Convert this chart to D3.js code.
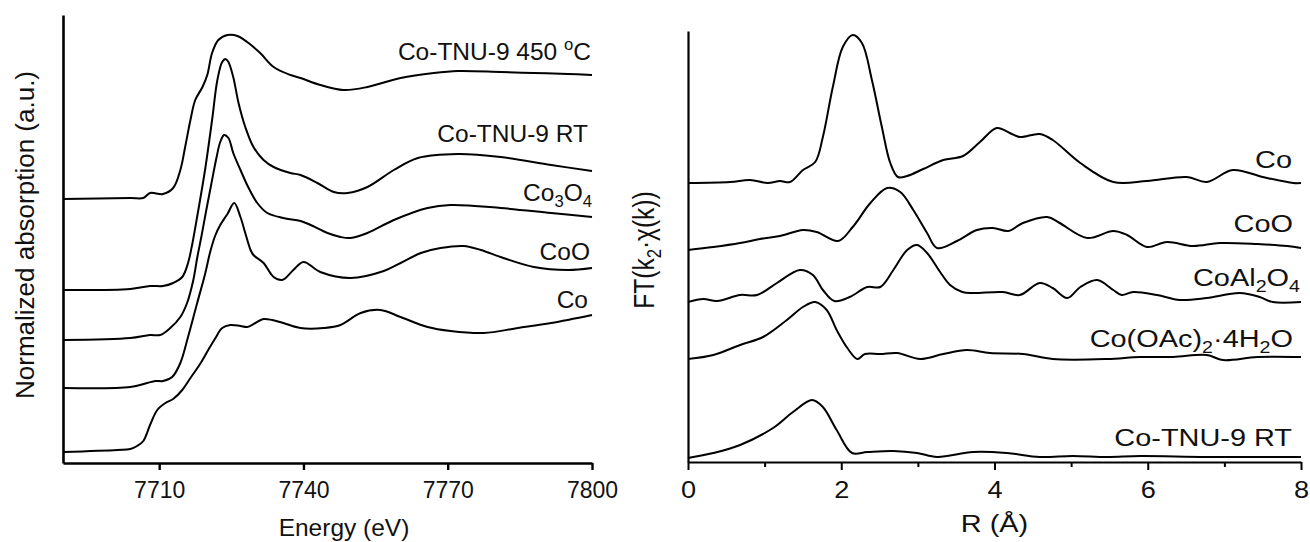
<!DOCTYPE html>
<html>
<head>
<meta charset="utf-8">
<script src="https://cdn.jsdelivr.net/npm/d3@7"></script>
<style>
  html, body { margin: 0; padding: 0; background: #fff; }
  svg { display: block; }
  text { font-family: "Liberation Sans", Arial, sans-serif; fill: #111; }
</style>
</head>
<body>
<svg id="chart" width="1310" height="542"></svg>
<script>
// ---------- XANES (left panel): energy in eV, normalized absorption (stacked, a.u.) ----------
const xanesTicks = [7710, 7740, 7770, 7800];

const xanesCo450 = [
  [7690,2.64],[7704,2.65],[7706.7,2.65],[7708.1,2.70],[7710.8,2.69],[7712.9,2.75],[7714.4,2.93],
  [7715.4,3.16],[7716.5,3.43],[7717.5,3.63],[7719,3.76],[7720,3.88],[7721,4.10],[7722.3,4.23],
  [7724.2,4.28],[7726.3,4.27],[7728.3,4.21],[7731,4.10],[7733.8,3.96],[7737.3,3.88],[7739.4,3.85],
  [7743.5,3.78],[7748.3,3.73],[7753.3,3.76],[7760.2,3.85],[7767.1,3.90],[7772.1,3.92],[7781,3.91],
  [7787.9,3.90],[7795,3.89],[7800,3.88]
];
const xanesRT = [
  [7690,1.73],[7704,1.74],[7708.1,1.77],[7710.8,1.77],[7712.9,1.80],[7714.8,1.86],[7716,2.00],
  [7716.8,2.17],[7717.6,2.38],[7718.5,2.63],[7719.6,2.95],[7721,3.43],[7722.1,3.83],[7723.1,4.01],
  [7723.8,4.04],[7724.4,4.01],[7725.4,3.86],[7726.5,3.60],[7727.9,3.36],[7729.6,3.16],[7731.7,3.03],
  [7733.8,2.96],[7737.3,2.90],[7739.4,2.88],[7742.9,2.80],[7746.3,2.71],[7749.2,2.70],[7753.3,2.76],
  [7758.8,2.93],[7763.8,3.05],[7772.1,3.09],[7781,3.06],[7791.5,2.98],[7800,2.92]
];
const xanesCo3O4 = [
  [7690,1.23],[7704,1.25],[7708.1,1.28],[7710.2,1.28],[7712.3,1.35],[7714.4,1.46],[7715.8,1.60],
  [7717.1,1.83],[7717.9,2.05],[7718.8,2.27],[7719.8,2.53],[7720.8,2.78],[7721.9,3.05],[7722.7,3.21],
  [7723.5,3.28],[7724.4,3.25],[7725.4,3.10],[7726.9,2.93],[7728.5,2.76],[7730.4,2.60],[7732.5,2.50],
  [7735.8,2.45],[7739.4,2.42],[7741.5,2.38],[7745,2.30],[7747.7,2.26],[7749.8,2.25],[7753.3,2.30],
  [7758.8,2.43],[7765.8,2.55],[7770.6,2.58],[7781,2.55],[7791.5,2.50],[7800,2.46]
];
const xanesCoO = [
  [7690,0.75],[7704,0.76],[7707.5,0.80],[7709.2,0.82],[7710.8,0.82],[7712.7,0.86],[7714.4,1.00],
  [7716,1.26],[7717.9,1.60],[7719.6,1.90],[7720.6,2.11],[7721.7,2.28],[7722.7,2.38],[7724.2,2.49],
  [7725.6,2.60],[7726.9,2.46],[7727.9,2.30],[7729,2.13],[7729.6,2.08],[7731.7,2.00],[7733.8,1.86],
  [7735.6,1.83],[7737.9,1.93],[7740,2.01],[7743.5,1.91],[7749.8,1.85],[7756.7,1.92],[7760.2,2.00],
  [7764.4,2.10],[7768.5,2.15],[7773.3,2.17],[7776.9,2.13],[7781,2.06],[7787.9,1.96],[7795,1.93],
  [7800,1.95]
];
const xanesCo = [
  [7690,0.11],[7701.3,0.13],[7704,0.14],[7705.4,0.17],[7706.7,0.22],[7708.1,0.38],[7709.6,0.53],
  [7711.3,0.60],[7712.9,0.64],[7714.8,0.73],[7716.5,0.85],[7718.5,0.99],[7720.2,1.13],[7721.7,1.25],
  [7723.1,1.35],[7724.8,1.38],[7726.9,1.37],[7728.3,1.36],[7730,1.40],[7731.7,1.44],[7733.5,1.43],
  [7735.8,1.40],[7739.4,1.35],[7744.2,1.35],[7747.7,1.38],[7751.9,1.50],[7756,1.53],[7760.2,1.46],
  [7765.8,1.36],[7770.6,1.32],[7777.5,1.30],[7784.6,1.35],[7791.5,1.40],[7800,1.48]
];

// ---------- EXAFS (right panel): R in Å, FT magnitude (stacked, a.u.) ----------
const exafsTicks = [0, 2, 4, 6, 8];
const exafsMinorTicks = [1, 3, 5, 7];

const exafsCo = [
  [0,2.79],[0.55,2.80],[0.81,2.82],[1.04,2.79],[1.20,2.81],[1.33,2.80],[1.50,2.92],[1.66,3.00],
  [1.76,3.25],[1.89,3.75],[2.02,4.15],[2.15,4.27],[2.27,4.19],[2.40,3.82],[2.53,3.35],[2.64,2.99],
  [2.74,2.85],[2.86,2.86],[3.07,2.93],[3.33,3.02],[3.59,3.06],[3.81,3.20],[4.03,3.34],[4.20,3.29],
  [4.33,3.25],[4.59,3.28],[4.76,3.22],[5.12,2.99],[5.55,2.80],[5.99,2.81],[6.51,2.85],[6.77,2.80],
  [7.11,2.92],[7.50,2.85],[7.90,2.79],[8,2.79]
];
const exafsCoO = [
  [0,2.12],[0.33,2.15],[0.68,2.19],[0.94,2.23],[1.20,2.26],[1.50,2.32],[1.68,2.30],[1.96,2.21],
  [2.15,2.35],[2.38,2.59],[2.60,2.74],[2.77,2.70],[2.94,2.52],[3.12,2.29],[3.25,2.14],[3.51,2.21],
  [3.77,2.32],[3.98,2.34],[4.18,2.31],[4.37,2.39],[4.69,2.45],[4.85,2.39],[5.21,2.24],[5.55,2.31],
  [5.73,2.27],[5.99,2.15],[6.25,2.20],[6.59,2.16],[6.94,2.19],[7.43,2.18],[7.82,2.16],[8,2.14]
];
const exafsCoAl2O4 = [
  [0,1.60],[0.20,1.63],[0.38,1.61],[0.68,1.67],[0.90,1.67],[1.16,1.79],[1.46,1.92],[1.63,1.87],
  [1.76,1.72],[1.91,1.61],[2.11,1.65],[2.34,1.75],[2.51,1.75],[2.68,1.92],[2.86,2.12],[2.99,2.17],
  [3.12,2.09],[3.29,1.90],[3.42,1.77],[3.58,1.70],[3.72,1.69],[4.11,1.70],[4.33,1.67],[4.59,1.79],
  [4.76,1.74],[4.95,1.64],[5.12,1.75],[5.34,1.82],[5.55,1.72],[5.66,1.67],[5.81,1.70],[6.12,1.67],
  [6.42,1.62],[6.77,1.64],[7.20,1.69],[7.46,1.65],[7.63,1.60],[8,1.60]
];
const exafsCoOAc = [
  [0,1.03],[0.33,1.07],[0.68,1.17],[0.98,1.25],[1.29,1.42],[1.50,1.55],[1.66,1.60],[1.81,1.52],
  [1.94,1.32],[2.08,1.14],[2.21,1.03],[2.31,1.08],[2.51,1.08],[2.73,1.09],[3.03,1.03],[3.33,1.08],
  [3.64,1.12],[3.94,1.09],[4.37,1.08],[4.76,1.03],[5.47,1.03],[5.90,1.05],[6.33,1.05],[6.77,1.07],
  [6.98,1.02],[7.43,1.05],[8,1.05]
];
const exafsRT = [
  [0,0.04],[0.33,0.09],[0.68,0.17],[1.11,0.34],[1.37,0.50],[1.62,0.62],[1.76,0.55],[1.94,0.32],
  [2.14,0.09],[2.34,0.10],[2.68,0.11],[2.99,0.09],[3.25,0.05],[3.72,0.10],[4.16,0.09],[4.59,0.05],
  [5.02,0.06],[5.47,0.05],[5.90,0.06],[6.77,0.05],[8,0.05]
];

// Series names, written as pieces: 0 = normal, 1 = subscript, -1 = superscript
const xanesNames = [
  [["Co-TNU-9 450 ", 0], ["o", -1], ["C", 0]],
  [["Co-TNU-9 RT", 0]],
  [["Co", 0], ["3", 1], ["O", 0], ["4", 1]],
  [["CoO", 0]],
  [["Co", 0]]
];
const exafsNames = [
  [["Co", 0]],
  [["CoO", 0]],
  [["CoAl", 0], ["2", 1], ["O", 0], ["4", 1]],
  [["Co(OAc)", 0], ["2", 1], ["·4H", 0], ["2", 1], ["O", 0]],
  [["Co-TNU-9 RT", 0]]
];

const xanesSeries = [xanesCo450, xanesRT, xanesCo3O4, xanesCoO, xanesCo];
const exafsSeries = [exafsCo, exafsCoO, exafsCoAl2O4, exafsCoOAc, exafsRT];

// ---------- layout ----------
// label anchors (right end x offset in px, baseline in data units)
const xanesNamePos = [{ dx: -1, y: 4.03 }, { dx: -4, y: 3.21 }, { dx: 0, y: 2.62 }, { dx: -2, y: 2.03 }, { dx: -4, y: 1.55 }];
const exafsNamePos = [{ dx: -9, y: 2.94 }, { dx: -8, y: 2.30 }, { dx: -1, y: 1.76 }, { dx: -8, y: 1.15 }, { dx: -9, y: 0.16 }];

const svg = d3.select("#chart");
const FONT = 24.5, TICK_FONT = 23, STRETCH = 1.18;

function addParts(textSel, parts, size) {
  let shift = 0;
  parts.forEach(([t, mode]) => {
    const ts = textSel.append("tspan").text(t);
    if (mode === 1) {           // subscript
      ts.attr("font-size", size * 0.68).attr("dy", 6 - shift); shift = 6;
    } else if (mode === -1) {   // superscript
      ts.attr("font-size", size * 0.68).attr("dy", -10 - shift); shift = -10;
    } else {
      ts.attr("font-size", size).attr("dy", -shift); shift = 0;
    }
  });
}

// Left panel scales
const xX = d3.scaleLinear().domain([7690, 7800]).range([63, 592]);
const xY = d3.scaleLinear().domain([0, 4.48]).range([463, 15]);
// Right panel scales
const rX = d3.scaleLinear().domain([0, 8]).range([688, 1301]);
const rY = d3.scaleLinear().domain([0, 4.31]).range([462, 31]);

const curve = d3.curveCatmullRom.alpha(0.5);

// ---- left panel ----
const left = svg.append("g");
const lineL = d3.line().x(d => xX(d[0])).y(d => xY(d[1])).curve(curve);
left.selectAll("path.series").data(xanesSeries).join("path")
  .attr("class", "series").attr("d", lineL)
  .attr("fill", "none").attr("stroke", "#000").attr("stroke-width", 2).attr("stroke-linejoin", "round");

const lxAxis = left.append("g").attr("transform", `translate(0,${xY(0)})`)
  .call(d3.axisBottom(xX).tickValues(xanesTicks).tickSize(7).tickSizeOuter(0).tickPadding(12).tickFormat(d3.format("d")));
lxAxis.select(".domain").attr("stroke", "#000").attr("stroke-width", 2.6);
lxAxis.selectAll(".tick line").attr("stroke", "#000").attr("stroke-width", 2.4);
lxAxis.selectAll(".tick text").attr("font-size", TICK_FONT).attr("font-family", "Liberation Sans, Arial, sans-serif").attr("fill", "#111");

const lyAxis = left.append("g").attr("transform", `translate(${xX(7690)},0)`)
  .call(d3.axisLeft(xY).tickValues([]).tickSizeOuter(0));
lyAxis.select(".domain").attr("stroke", "#000").attr("stroke-width", 2.6);

left.append("text").attr("x", 344).attr("y", 536)
  .attr("text-anchor", "middle").attr("font-size", FONT).text("Energy (eV)");
left.append("text").attr("transform", `translate(34,235) rotate(-90)`)
  .attr("text-anchor", "middle").attr("font-size", 26).text("Normalized absorption (a.u.)");

xanesNames.forEach((parts, i) => {
  const p = xanesNamePos[i];
  const t = left.append("text").attr("x", xX(7800) + p.dx).attr("y", xY(p.y)).attr("text-anchor", "end");
  addParts(t, parts, FONT);
});

// ---- right panel ----
const right = svg.append("g");
const lineR = d3.line().x(d => rX(d[0])).y(d => rY(d[1])).curve(curve);
right.selectAll("path.series").data(exafsSeries).join("path")
  .attr("class", "series").attr("d", lineR)
  .attr("fill", "none").attr("stroke", "#000").attr("stroke-width", 2).attr("stroke-linejoin", "round");

const rxAxis = right.append("g").attr("transform", `translate(0,${rY(0)})`)
  .call(d3.axisBottom(rX).tickValues(exafsTicks).tickSize(8).tickSizeOuter(0).tickPadding(12).tickFormat(d3.format("d")));
rxAxis.select(".domain").attr("stroke", "#000").attr("stroke-width", 2.2);
rxAxis.selectAll(".tick line").attr("stroke", "#000").attr("stroke-width", 2);
rxAxis.selectAll(".tick text").attr("font-size", TICK_FONT).attr("font-family", "Liberation Sans, Arial, sans-serif")
  .attr("fill", "#111").attr("transform", `scale(${STRETCH},1)`);

const rxMinor = right.append("g").attr("transform", `translate(0,${rY(0)})`)
  .call(d3.axisBottom(rX).tickValues(exafsMinorTicks).tickSize(5).tickFormat(""));
rxMinor.select(".domain").remove();
rxMinor.selectAll(".tick line").attr("stroke", "#000").attr("stroke-width", 2);

const ryAxis = right.append("g").attr("transform", `translate(${rX(0)},0)`)
  .call(d3.axisLeft(rY).tickValues([]).tickSizeOuter(0));
ryAxis.select(".domain").attr("stroke", "#000").attr("stroke-width", 2.2);

right.append("text")
  .attr("transform", `translate(${(rX.range()[0] + rX.range()[1]) / 2},532) scale(${STRETCH},1)`)
  .attr("text-anchor", "middle").attr("font-size", FONT).text("R (Å)");

const yl = right.append("text")
  .attr("transform", `translate(654,250) scale(${STRETCH},1) rotate(-90)`)
  .attr("text-anchor", "middle");
addParts(yl, [["FT(k", 0], ["2", 1], ["·χ(k))", 0]], FONT);

exafsNames.forEach((parts, i) => {
  const p = exafsNamePos[i];
  const t = right.append("text")
    .attr("transform", `translate(${rX(8) + p.dx},${rY(p.y)}) scale(${STRETCH},1)`)
    .attr("text-anchor", "end");
  addParts(t, parts, FONT);
});
</script>
</body>
</html>
